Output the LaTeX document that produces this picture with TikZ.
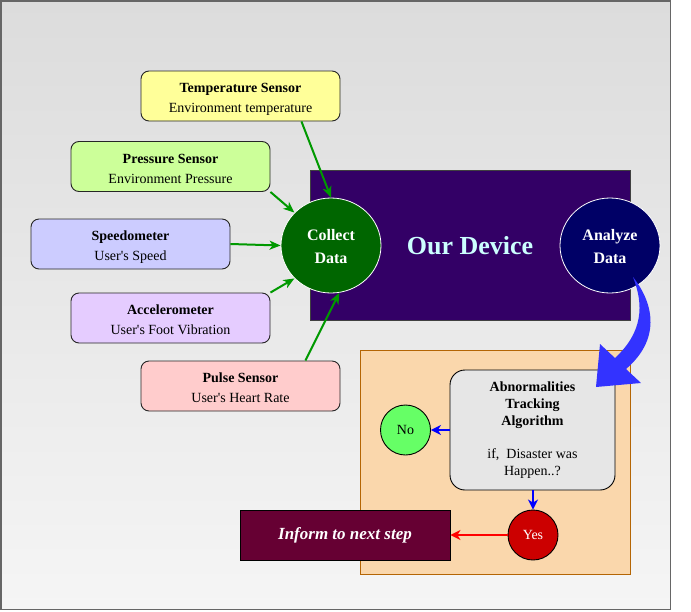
\documentclass[tikz,border=0pt]{standalone}
\usepackage{fontspec}
\setmainfont{Liberation Serif}
\usetikzlibrary{arrows.meta,shapes.geometric,calc}
\definecolor{bgtop}{HTML}{DCDCDC}
\definecolor{bgbot}{HTML}{F5F5F5}
\definecolor{bgline}{HTML}{666666}
\definecolor{ctemp}{HTML}{FFFF99}
\definecolor{cpress}{HTML}{CCFF99}
\definecolor{cspeed}{HTML}{CCCCFF}
\definecolor{caccel}{HTML}{E5CCFF}
\definecolor{cpulse}{HTML}{FFCCCC}
\definecolor{cdevice}{HTML}{330066}
\definecolor{ccollect}{HTML}{006600}
\definecolor{canalyze}{HTML}{000066}
\definecolor{ctitle}{HTML}{CCFFFF}
\definecolor{corange}{HTML}{FAD7AC}
\definecolor{corangeline}{HTML}{B46504}
\definecolor{cabn}{HTML}{E6E6E6}
\definecolor{cno}{HTML}{66FF66}
\definecolor{cyes}{HTML}{CC0000}
\definecolor{cinform}{HTML}{660033}
\definecolor{cgreen}{HTML}{009900}
\definecolor{cbig}{HTML}{3333FF}
\newcommand{\lowtwo}[3]{\raisebox{-#1}[\height][\depth]{\begin{tabular}{@{}c@{}}#2\\#3\end{tabular}}}
\begin{document}
\begin{tikzpicture}[x=1pt,y=-1pt,
  sensor/.style={draw=black!85,line width=0.9pt,rounded corners=8pt,minimum width=199pt,minimum height=50pt,inner sep=0pt,font=\fontsize{14}{20}\selectfont},
  bubble/.style={ellipse,draw=white,line width=0.8pt,minimum width=100pt,minimum height=95pt,inner sep=0pt,text=white,font=\fontsize{16}{23}\selectfont\bfseries},
  smallcirc/.style={circle,draw=black,line width=0.9pt,minimum size=50pt,inner sep=0pt,font=\fontsize{14}{17}\selectfont},
  greenarrow/.style={draw=cgreen,line width=2pt,-{Stealth[length=11pt,width=9pt,inset=3pt]}},
  bluearrow/.style={draw=blue,line width=2pt,-{Stealth[length=10pt,width=10pt,inset=3pt]}},
  redarrow/.style={draw=red,line width=2pt,-{Stealth[length=10pt,width=10pt,inset=3pt]}}
]
\useasboundingbox (0,0) rectangle (691,611);
\shade[top color=bgtop,bottom color=bgbot,draw=bgline,line width=1.5pt] (0.75,0.75) rectangle (670.5,609.5);

% device
\node[draw=black!75,line width=0.9pt,fill=cdevice,minimum width=320pt,minimum height=150pt,inner sep=0pt,text=ctitle,font=\fontsize{26}{30}\selectfont\bfseries] (device) at (470,245) {\raisebox{-1pt}[\height][\depth]{Our Device}};

% sensors
\node[sensor,fill=ctemp] (temp) at (240.5,96) {\lowtwo{2.5pt}{\textbf{Temperature Sensor}}{Environment temperature}};
\node[sensor,fill=cpress] (press) at (170.5,166.5) {\lowtwo{2.5pt}{\textbf{Pressure Sensor}}{Environment Pressure}};
\node[sensor,fill=cspeed] (speed) at (130.5,244) {\lowtwo{2.5pt}{\textbf{Speedometer}}{User\textquotesingle s Speed}};
\node[sensor,fill=caccel] (accel) at (170.5,318) {\lowtwo{2.5pt}{\textbf{Accelerometer}}{User\textquotesingle s Foot Vibration}};
\node[sensor,fill=cpulse] (pulse) at (240.5,386) {\lowtwo{2.5pt}{\textbf{Pulse Sensor}}{User\textquotesingle s Heart Rate}};

% circles
\node[bubble,fill=ccollect] (collect) at (331,245.5) {\lowtwo{2pt}{Collect}{Data}};
\node[bubble,fill=canalyze] (analyze) at (610,245.5) {\lowtwo{2pt}{Analyze}{Data}};

% sensor arrows
\draw[greenarrow] ([xshift=-39pt]temp.south east) -- (collect.north);
\draw[greenarrow] (press.south east) -- (collect.138);
\draw[greenarrow] (speed.east) -- (collect.west);
\draw[greenarrow] (accel.north east) -- (collect.222);
\draw[greenarrow] ([xshift=-35pt]pulse.north east) -- (collect.280);

% decision area
\node[draw=corangeline,line width=0.9pt,fill=corange,minimum width=270pt,minimum height=224pt,inner sep=0pt] (area) at (495,462) {};
\node[draw=black,line width=0.9pt,fill=cabn,rounded corners=15pt,minimum width=165pt,minimum height=120pt,inner sep=0pt,align=center,font=\fontsize{14}{17}\selectfont] (abn) at (532.5,430) {\textbf{Abnormalities}\\\textbf{Tracking}\\\textbf{Algorithm}\\[16pt]if,\ \ Disaster was\\Happen..?};
\node[smallcirc,fill=cno] (no) at (405.5,430) {No};
\node[smallcirc,fill=cyes,text=white] (yes) at (533,535) {Yes};
\node[draw=black,line width=0.9pt,fill=cinform,minimum width=210pt,minimum height=50pt,inner sep=0pt,text=white,font=\fontsize{17}{20}\selectfont\bfseries\itshape] (inform) at (345,535) {Inform to next step};

\draw[bluearrow] (abn.west) -- (no.east);
\draw[bluearrow] (abn.south -| yes.north) -- (yes.north);
\draw[redarrow] (yes.west) -- (inform.east);

% big curved arrow
\fill[cbig] (633,277) .. controls (655,305) and (660,340) .. (626,369) -- (641,383) -- (596,387) -- (600,344) -- (615,358) .. controls (643,332) and (644,305) .. (633,277) -- cycle;
\end{tikzpicture}
\end{document}
